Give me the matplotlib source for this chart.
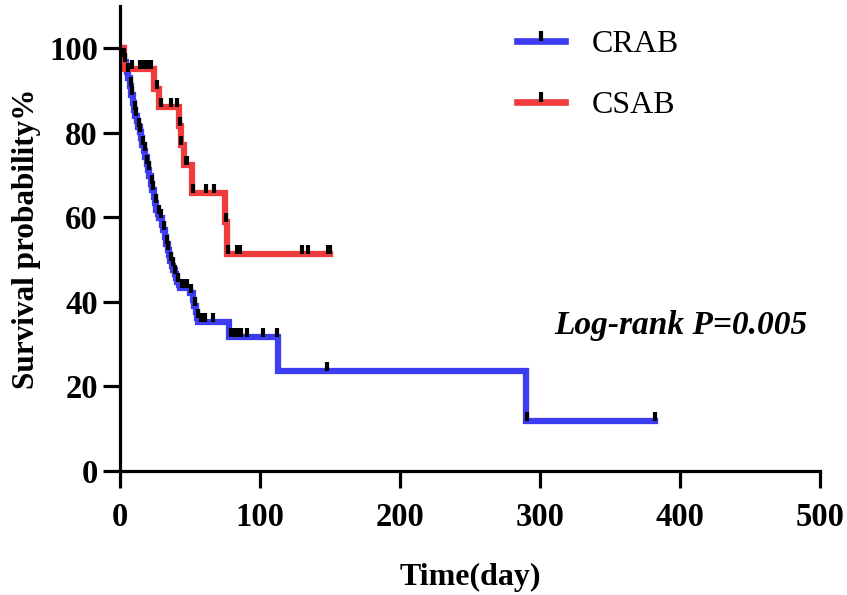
import numpy as np
import matplotlib.pyplot as plt
from matplotlib.path import Path
from matplotlib.lines import Line2D

plt.rcParams['font.family'] = ['Liberation Serif', 'DejaVu Serif']

# CRAB: event times (day) and survival (%) after each step
crab_times = [1, 2, 3, 4, 5, 6, 7, 8, 9, 10, 11, 12, 13, 14, 15, 16, 17, 18,
              19, 20, 21, 22, 23, 24, 25, 26, 27, 28, 30, 31, 32, 33, 34, 35,
              36, 37, 38, 39, 40, 41, 42, 43, 50, 52, 53, 54, 55, 56, 78, 113, 290]
crab_surv = [99.0, 98.0, 96.8, 95.5, 94.4, 93.0, 91.0, 89.0, 87.0, 85.3, 84.0,
             82.7, 81.4, 80.3, 78.8, 77.2, 75.7, 74.3, 72.7, 71.2, 69.7, 68.0,
             66.4, 64.9, 63.4, 61.8, 60.8, 59.8, 58.3, 57.0, 55.4, 53.8, 52.3,
             51.0, 49.7, 48.6, 47.5, 46.5, 45.6, 44.6, 44.0, 43.4, 42.0, 40.5,
             39.0, 37.5, 36.3, 35.3, 31.7, 23.6, 11.9]
crab_end = 382
crab_censor = [2.5, 3.5, 5.5, 7.5, 8.5, 10.5, 11.5, 13.5, 14.5, 16.5, 17.5,
               19.5, 20.5, 22.5, 23.5, 25.5, 27.5, 29, 31.5, 33.5, 34.5, 36.5,
               37.5, 39.5, 41.5, 44, 45, 46.5, 48, 51, 53.5, 55.5, 57.5, 59,
               61, 66.7, 79.5, 82.5, 84.5, 86.5, 90.5, 102.4, 112.4, 148,
               290.7, 382]

# CSAB
csab_times = [3, 24.3, 28.1, 42.1, 43.3, 45.7, 51.2, 75, 76.7]
csab_surv = [95.0, 90.3, 86.0, 81.5, 77.1, 72.3, 65.8, 59.0, 51.3]
csab_end = 150
csab_censor = [8.3, 14, 16, 18, 20, 22, 26.2, 29.3, 36.4, 40.5, 42.9, 43.8,
               47.1, 48, 52.4, 61.2, 67.4, 75.5, 77.4, 83.5, 85.5, 129.8,
               134, 148.5, 150]

blue = '#3c3cf0'
red = '#f03c3c'
tick_mark = Path([(0, 0), (0, 1)])

fig = plt.figure(figsize=(8.47, 5.95), dpi=100)
ax = fig.add_axes([0.1417, 0.2084, 0.8263, 0.7816])


def km_curve(times, surv, end, censor, color, label):
    x = [0] + list(times) + [end]
    y = [100] + list(surv) + [surv[-1]]
    ax.step(x, y, where='post', color=color, lw=4.5, solid_joinstyle='miter',
            zorder=2)
    # survival level at each censor time
    idx = np.searchsorted(np.array(x[:-1]), censor, side='right') - 1
    cy = np.array(y)[idx]
    ax.plot(censor, cy, ls='none', marker=tick_mark, ms=13, mew=3,
            color='black', zorder=3)
    return Line2D([], [], color=color, lw=4.8, marker=tick_mark, ms=14, mew=3,
                  mec='black', label=label)


h1 = km_curve(crab_times, crab_surv, crab_end, crab_censor, blue, 'CRAB')
h2 = km_curve(csab_times, csab_surv, csab_end, csab_censor, red, 'CSAB')

ax.set_xlim(0, 500)
ax.set_ylim(0, 110)
ax.set_xticks([0, 100, 200, 300, 400, 500])
ax.set_yticks([0, 20, 40, 60, 80, 100])
for s in ['top', 'right']:
    ax.spines[s].set_visible(False)
for s in ['left', 'bottom']:
    ax.spines[s].set_linewidth(2.3)
ax.tick_params(axis='both', length=12, width=2.3, labelsize=23.5)
ax.tick_params(axis='x', pad=10)
ax.tick_params(axis='y', pad=4)
for lab in ax.get_xticklabels() + ax.get_yticklabels():
    lab.set_fontweight('bold')

ax.set_xlabel('Time(day)', fontsize=23, fontweight='bold', labelpad=22)
ax.set_ylabel('Survival probability%', fontsize=22.5, fontweight='bold',
              labelpad=6)

ax.text(0.982, 0.312, 'Log-rank P=0.005', transform=ax.transAxes,
        fontsize=24, fontweight='bold', style='italic', ha='right',
        va='center')

ax.legend(handles=[h1, h2], loc='upper left', bbox_to_anchor=(0.54, 0.99),
          frameon=False, fontsize=23, handlelength=1.5, handletextpad=0.85,
          labelspacing=1.0, borderaxespad=0.2)

fig.savefig('out.png', dpi=100)
